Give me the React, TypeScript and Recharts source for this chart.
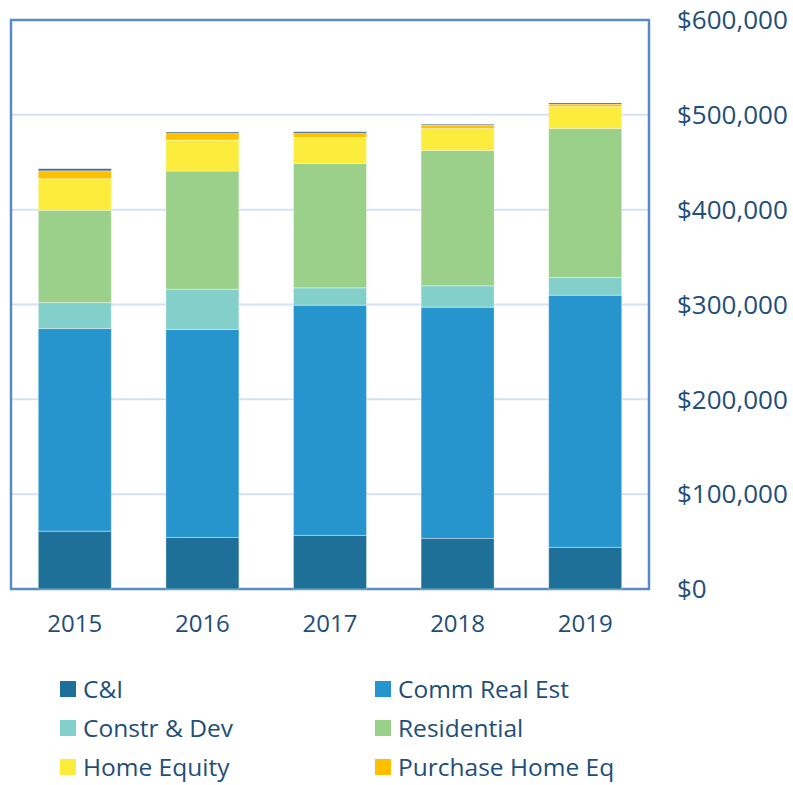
import React from 'react';
import { BarChart, Bar, XAxis, YAxis, CartesianGrid, Legend, ReferenceArea } from 'recharts';

const years = ['2015', '2016', '2017', '2018', '2019'];
const ci = [61000, 54400, 56500, 53400, 43900];
const commRealEst = [213600, 219300, 242800, 243800, 265900];
const constrDev = [27400, 42400, 18300, 22500, 18600];
const residential = [97400, 124600, 131100, 142700, 157200];
const homeEquity = [33100, 32700, 27400, 23200, 23100];
const purchaseHomeEq = [8500, 7300, 4600, 3600, 2600];
const other = [2100, 1100, 1400, 1000, 1300];
const yTicks = [0, 100000, 200000, 300000, 400000, 500000, 600000];

const seriesNames = ['C&I', 'Comm Real Est', 'Constr & Dev', 'Residential', 'Home Equity', 'Purchase Home Eq'];

const data = years.map((y, i) => ({
  year: y,
  ci: ci[i],
  comm: commRealEst[i],
  constr: constrDev[i],
  res: residential[i],
  he: homeEquity[i],
  phe: purchaseHomeEq[i],
  other: other[i],
}));

const FONT = '"Open Sans", "Noto Sans", sans-serif';
const TEXT = '#1F4E79';

const series = [
  { key: 'ci', name: seriesNames[0], color: '#1F7099' },
  { key: 'comm', name: seriesNames[1], color: '#2694CD' },
  { key: 'constr', name: seriesNames[2], color: '#83D0CB' },
  { key: 'res', name: seriesNames[3], color: '#9AD089' },
  { key: 'he', name: seriesNames[4], color: '#FCEC3C' },
  { key: 'phe', name: seriesNames[5], color: '#FFC000' },
];

const fmt = (v: number) => '$' + v.toLocaleString('en-US');

const LegendContent = () => (
  <div style={{ position: 'relative', width: 793, height: 106, fontFamily: FONT }}>
    {series.map((s, i) => {
      const col = i % 2;
      const row = Math.floor(i / 2);
      return (
        <div
          key={s.key}
          style={{
            position: 'absolute',
            left: col === 0 ? 60 : 375,
            top: row * 39,
            height: 28,
            display: 'flex',
            alignItems: 'center',
            whiteSpace: 'nowrap',
          }}
        >
          <span style={{ display: 'inline-block', width: 16, height: 16, background: s.color, marginRight: 7 }} />
          <span style={{ fontSize: 24.5, color: TEXT, lineHeight: '28px' }}>{s.name}</span>
        </div>
      );
    })}
  </div>
);

export default function App() {
  return (
    <div style={{ position: 'absolute', left: 0, top: 0, width: 793, height: 785, background: '#fff' }}>
      <BarChart
        width={793}
        height={785}
        data={data}
        margin={{ top: 20, right: 0, left: 11, bottom: 136 }}
        barCategoryGap="21.4%"
      >
        <CartesianGrid vertical={false} stroke="#D6E2F3" strokeWidth={2} />
        <XAxis
          dataKey="year"
          height={60}
          axisLine={false}
          tickLine={false}
          tickMargin={20}
          tick={{ fill: TEXT, fontSize: 24, fontFamily: FONT }}
        />
        <YAxis
          orientation="right"
          width={144}
          domain={[0, 600000]}
          ticks={yTicks}
          axisLine={false}
          tickLine={false}
          tickMargin={22}
          tickFormatter={fmt}
          tick={{ fill: TEXT, fontSize: 26, fontFamily: FONT, textAnchor: 'start' }}
        />
        {series.map((s) => (
          <Bar
            key={s.key}
            dataKey={s.key}
            name={s.name}
            stackId="a"
            fill={s.color}
            stroke="#ffffff"
            strokeOpacity={0.35}
            strokeWidth={1}
            isAnimationActive={false}
          />
        ))}
        <Bar
          dataKey="other"
          name="Other"
          stackId="a"
          fill="#2E5A80"
          stroke="#ffffff"
          strokeOpacity={0.35}
          strokeWidth={1}
          legendType="none"
          isAnimationActive={false}
        />
        <ReferenceArea y1={0} y2={600000} fill="none" fillOpacity={0} stroke="#5A8AC6" strokeWidth={2.5} ifOverflow="visible" />
        <Legend
          layout="horizontal"
          verticalAlign="middle"
          align="center"
          content={<LegendContent />}
          wrapperStyle={{ left: 0, top: 675, width: 793, height: 106 }}
        />
      </BarChart>
    </div>
  );
}
